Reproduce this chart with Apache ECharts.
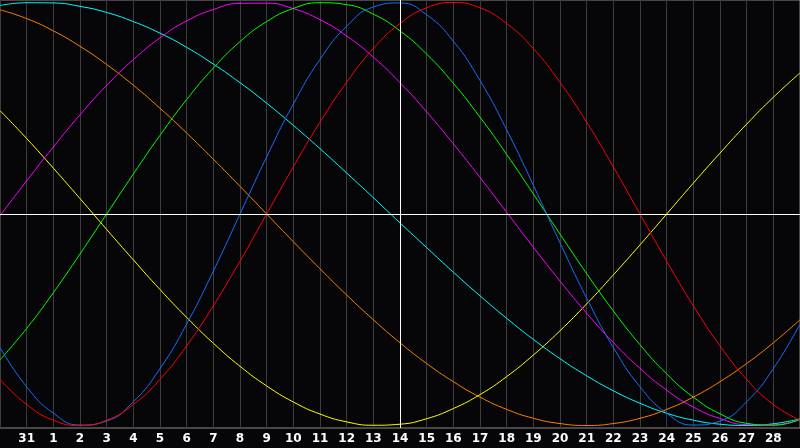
<!DOCTYPE html>
<html>
<head>
<meta charset="utf-8">
<script src="https://cdn.jsdelivr.net/npm/echarts@6/dist/echarts.min.js"></script>
<style>
html,body{margin:0;padding:0;background:#060608;}
#chart{width:800px;height:448px;}
</style>
</head>
<body>
<div id="chart"></div>
<script>
// day labels (first and last are the plot edges, not labelled)
const days = ['30','31','1','2','3','4','5','6','7','8','9','10','11','12','13','14','15','16','17','18','19','20','21','22','23','24','25','26','27','28','29'];
const markedDay = '14';

// cycle values read at each day line
const physical = [-0.631,-0.817,-0.942,-0.998,-0.979,-0.888,-0.731,-0.520,-0.270,0,0.270,0.520,0.731,0.888,0.979,0.998,0.942,0.817,0.631,0.398,0.136,-0.136,-0.398,-0.631,-0.817,-0.942,-0.998,-0.979,-0.888,-0.731,-0.520];
const emotional = [-0.782,-0.901,-0.975,-1.000,-0.975,-0.901,-0.782,-0.623,-0.434,-0.223,0,0.223,0.434,0.623,0.782,0.901,0.975,1.000,0.975,0.901,0.782,0.623,0.434,0.223,0,-0.223,-0.434,-0.623,-0.782,-0.901,-0.975];
const intellectual = [-0.690,-0.541,-0.372,-0.189,0,0.189,0.372,0.541,0.690,0.815,0.910,0.972,0.999,0.990,0.945,0.866,0.756,0.618,0.458,0.282,0.095,-0.095,-0.282,-0.458,-0.618,-0.756,-0.866,-0.945,-0.990,-0.999,-0.972];
const intuitive = [-0.008,0.157,0.317,0.469,0.608,0.730,0.833,0.913,0.967,0.996,0.997,0.971,0.919,0.842,0.742,0.621,0.483,0.332,0.173,0.008,-0.157,-0.317,-0.469,-0.608,-0.730,-0.833,-0.913,-0.967,-0.996,-0.997,-0.971];
const aesthetic = [0.489,0.357,0.217,0.073,-0.073,-0.217,-0.357,-0.489,-0.611,-0.720,-0.813,-0.889,-0.946,-0.983,-0.999,-0.994,-0.968,-0.920,-0.854,-0.769,-0.667,-0.552,-0.425,-0.288,-0.146,0,0.146,0.288,0.425,0.552,0.667];
const awareness = [0.966,0.924,0.866,0.793,0.707,0.609,0.500,0.383,0.259,0.131,0,-0.131,-0.259,-0.383,-0.500,-0.609,-0.707,-0.793,-0.866,-0.924,-0.966,-0.991,-1.000,-0.991,-0.966,-0.924,-0.866,-0.793,-0.707,-0.609,-0.500];
const spiritual = [0.986,0.999,0.998,0.982,0.953,0.910,0.855,0.788,0.709,0.621,0.524,0.419,0.309,0.194,0.077,-0.042,-0.159,-0.275,-0.387,-0.493,-0.593,-0.684,-0.765,-0.836,-0.895,-0.942,-0.975,-0.994,-1.000,-0.992,-0.969];

const seriesDefs = [
  {name:'spiritual', data:spiritual, color:'#00ffff'},
  {name:'awareness', data:awareness, color:'#ff8000'},
  {name:'aesthetic', data:aesthetic, color:'#ffff00'},
  {name:'intuitive', data:intuitive, color:'#ff00ff'},
  {name:'intellectual', data:intellectual, color:'#00ff00'},
  {name:'physical', data:physical, color:'#1a6cff'},
  {name:'emotional', data:emotional, color:'#ff0000'}
];

const chart = echarts.init(document.getElementById('chart'), null, {renderer:'canvas'});
const series = seriesDefs.map(s => ({
  name:s.name, type:'line', data:s.data, smooth:0.5, showSymbol:false,
  lineStyle:{color:s.color, width:1}, itemStyle:{color:s.color}, z:3
}));
series.push({
  type:'line', data:[], silent:true, z:2,
  markLine:{
    silent:true, symbol:'none', label:{show:false}, animation:false,
    lineStyle:{color:'#ffffff', width:1, type:'solid'},
    data:[{yAxis:0},{xAxis:markedDay}]
  }
});

chart.setOption({
  animation:false,
  backgroundColor:'#060608',
  grid:{left:0, right:0, top:0, bottom:20, containLabel:false, outerBoundsMode:'none',
        show:true, borderColor:'#8a8a8a', borderWidth:1, backgroundColor:'transparent'},
  xAxis:{
    type:'category', data:days, boundaryGap:false,
    axisLine:{show:true, lineStyle:{color:'#8a8a8a', width:1}},
    axisTick:{show:false},
    splitLine:{show:true, interval:0, lineStyle:{color:'#3c3c3c', width:1}},
    axisLabel:{show:true, interval:0, color:'#ffffff', fontFamily:'DejaVu Sans', fontWeight:'bold', fontSize:12, margin:5,
      formatter:function(v, idx){ return (idx === 0 || idx === days.length - 1) ? '' : v; }}
  },
  yAxis:{
    type:'value', min:-1.012, max:1.012,
    axisLine:{show:false}, axisTick:{show:false}, axisLabel:{show:false}, splitLine:{show:false}
  },
  series:series
});
</script>
</body>
</html>
